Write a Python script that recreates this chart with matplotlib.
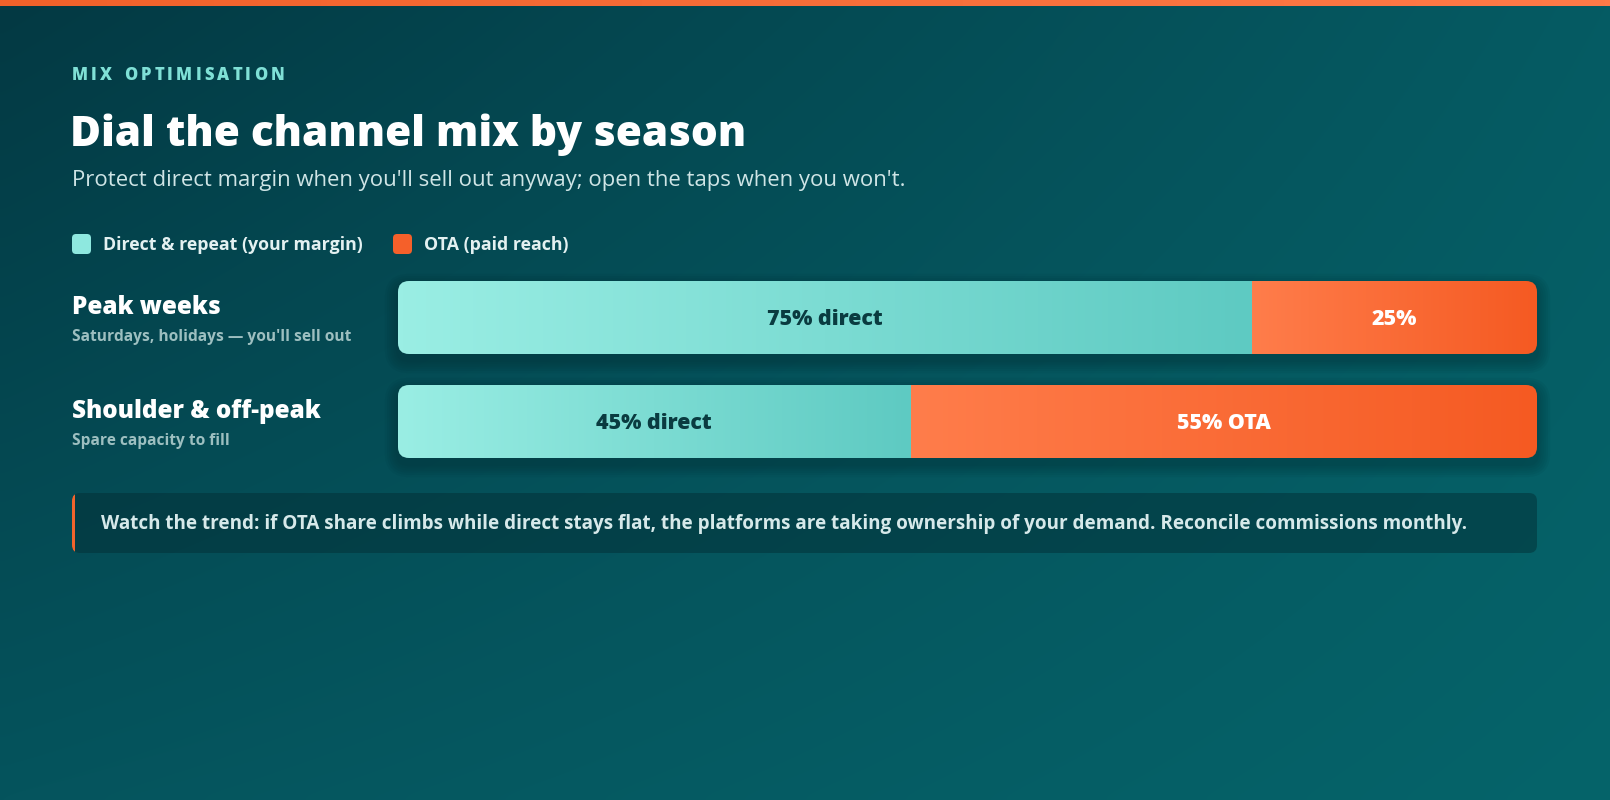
import numpy as np
import matplotlib.pyplot as plt
from matplotlib.colors import LinearSegmentedColormap, to_rgb
from matplotlib.patches import FancyBboxPatch, Rectangle

plt.rcParams['font.family'] = ['Open Sans', 'DejaVu Sans']

# data
seasons = ['Peak weeks', 'Shoulder & off-peak']
season_notes = ["Saturdays, holidays \u2014 you'll sell out", 'Spare capacity to fill']
direct_share = [75, 45]
ota_share = [25, 55]
direct_labels = ['75% direct', '45% direct']
ota_labels = ['25%', '55% OTA']
legend_names = ['Direct & repeat (your margin)', 'OTA (paid reach)']

eyebrow = 'MIX OPTIMISATION'
title = 'Dial the channel mix by season'
subtitle = "Protect direct margin when you'll sell out anyway; open the taps when you won't."
callout = ('Watch the trend: if OTA share climbs while direct stays flat, the platforms are '
           'taking ownership of your demand. Reconcile commissions monthly.')

W, H = 1610, 800
fig = plt.figure(figsize=(W / 100, H / 100), dpi=100)

# background in pixel coords
bg = fig.add_axes([0, 0, 1, 1])
bg.set_xlim(0, W)
bg.set_ylim(H, 0)
bg.axis('off')

tl, tr = np.array(to_rgb('#033943')), np.array(to_rgb('#065b63'))
bl, br = np.array(to_rgb('#05545d')), np.array(to_rgb('#06646a'))
u = np.linspace(0, 1, 200)[None, :, None]
v = np.linspace(0, 1, 100)[:, None, None]
grad = (1 - u) * (1 - v) * tl + u * (1 - v) * tr + (1 - u) * v * bl + u * v * br
bg.imshow(grad, extent=(0, W, H, 0), aspect='auto', interpolation='bicubic', zorder=0)

stripe = LinearSegmentedColormap.from_list('stripe', ['#f0612a', '#ff7a48'])
bg.imshow(np.linspace(0, 1, 256)[None, :], cmap=stripe, extent=(0, W, 6, 0),
          aspect='auto', zorder=1)
bg.set_xlim(0, W)
bg.set_ylim(H, 0)

renderer = fig.canvas.get_renderer()

# eyebrow with letter spacing
x = 72
for ch in eyebrow:
    t = bg.text(x, 80, ch, color='#7fe0d6', fontsize=12, fontweight='extra bold', va='baseline')
    w = t.get_window_extent(renderer).width if ch != ' ' else 5.5
    x += w + 3.2

bg.text(70, 146, title, color='white', fontsize=30.5, fontweight='extra bold', va='baseline')
bg.text(72, 186, subtitle, color='#cfe5e6', fontsize=15.9, va='baseline')

# legend
leg_colors = ['#8ee8df', '#f5602a']
lx = [72, 393]
for name, c, x0 in zip(legend_names, leg_colors, lx):
    bg.add_patch(FancyBboxPatch((x0, 234), 19, 20, boxstyle='round,pad=0,rounding_size=4',
                                fc=c, ec='none', zorder=3))
    bg.text(x0 + 31, 250, name, color='#e3f1f1', fontsize=12.8, fontweight='bold', va='baseline')

# row labels
row_base = [314, 418]
for name, note, yb in zip(seasons, season_notes, row_base):
    bg.text(72, yb, name, color='white', fontsize=17.5, fontweight='extra bold', va='baseline')
    bg.text(72, yb + 27, note, color='#9dbfc0', fontsize=11.2, fontweight='bold', va='baseline')

# callout
bg.add_patch(FancyBboxPatch((72, 493), 1465, 60, boxstyle='round,pad=0,rounding_size=8',
                            fc='#032f36', ec='none', alpha=0.5, zorder=2))
edge = FancyBboxPatch((72, 493), 1465, 60, boxstyle='round,pad=0,rounding_size=8',
                      fc='#f2642c', ec='none', zorder=3)
bg.add_patch(edge)
edge.set_clip_path(Rectangle((72, 490), 3.2, 66, transform=bg.transData))
bg.text(101, 529, callout, color='#d6e9ea', fontsize=13.6, fontweight='bold', va='baseline')

# bars
bx0, bx1, by0, by1 = 398, 1537, 281, 458
ax = fig.add_axes([bx0 / W, (H - by1) / H, (bx1 - bx0) / W, (by1 - by0) / H])
row_gap = 104.0
bar_h = 73 / row_gap
ylo = -(317.5 - by0) / row_gap
yhi = ylo + (by1 - by0) / row_gap
ax.axis('off')

px_x = (bx1 - bx0) / 100.0
rx = 11 / px_x
ry = 11 / row_gap
asp = ry / rx

cm_direct = LinearSegmentedColormap.from_list('direct', ['#9aeee4', '#5ecac2'])
cm_ota = LinearSegmentedColormap.from_list('ota', ['#ff7d4b', '#f55a22'])
ramp = np.linspace(0, 1, 256)[None, :]

for i in range(len(seasons)):
    yc = i
    top = yc - bar_h / 2
    # soft shadow
    for k in range(6):
        sp = (k + 1) * 2.2
        sh = FancyBboxPatch((-sp / px_x, top - sp / row_gap + 6 / row_gap), 100 + 2 * sp / px_x,
                            bar_h + 2 * sp / row_gap,
                            boxstyle=f'round,pad=0,rounding_size={rx + sp / px_x}',
                            mutation_aspect=asp, fc='#021f24', ec='none', alpha=0.05,
                            zorder=1, clip_on=False)
        ax.add_patch(sh)
    clip = FancyBboxPatch((0, top), 100, bar_h, boxstyle=f'round,pad=0,rounding_size={rx}',
                          mutation_aspect=asp, fc='none', ec='none', transform=ax.transData)
    ax.add_patch(clip)
    d = direct_share[i]
    im1 = ax.imshow(ramp, cmap=cm_direct, extent=(0, d, top + bar_h, top), aspect='auto',
                    interpolation='bilinear', zorder=2)
    im1.set_clip_path(clip)
    im2 = ax.imshow(ramp, cmap=cm_ota, extent=(d, d + ota_share[i], top + bar_h, top),
                    aspect='auto', interpolation='bilinear', zorder=2)
    im2.set_clip_path(clip)
    ax.text(d / 2, yc + 0.02, direct_labels[i], color='#0a3b40', fontsize=15.4,
            fontweight='extra bold', ha='center', va='center', zorder=3)
    ax.text(d + ota_share[i] / 2, yc + 0.02, ota_labels[i], color='white', fontsize=15.4,
            fontweight='extra bold', ha='center', va='center', zorder=3)

ax.set_xlim(0, 100)
ax.set_ylim(yhi, ylo)

fig.savefig('out.png', dpi=100)
